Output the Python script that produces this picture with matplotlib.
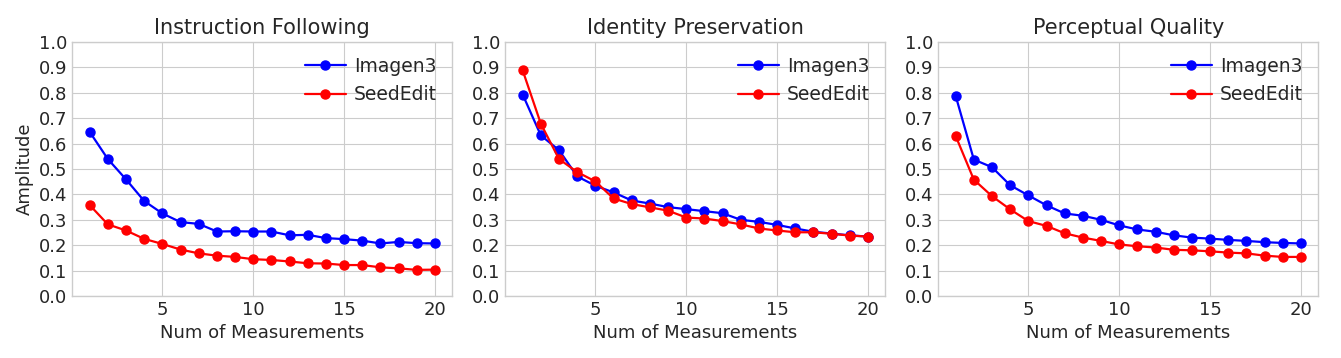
import numpy as np
import matplotlib
matplotlib.use("Agg")
import matplotlib.pyplot as plt

# Valores
x = list(range(1, 21))

instr_imagen3 = [0.646, 0.539, 0.459, 0.374, 0.325, 0.291, 0.284, 0.254, 0.255, 0.254,
                 0.254, 0.239, 0.241, 0.228, 0.224, 0.218, 0.207, 0.213, 0.208, 0.207]
instr_seededit = [0.358, 0.282, 0.258, 0.225, 0.205, 0.183, 0.168, 0.159, 0.154, 0.145,
                  0.142, 0.136, 0.129, 0.128, 0.122, 0.122, 0.113, 0.109, 0.103, 0.104]

ident_imagen3 = [0.793, 0.632, 0.574, 0.471, 0.434, 0.408, 0.376, 0.364, 0.350, 0.342,
                 0.334, 0.326, 0.300, 0.292, 0.280, 0.266, 0.253, 0.246, 0.239, 0.234]
ident_seededit = [0.888, 0.678, 0.539, 0.488, 0.451, 0.384, 0.362, 0.349, 0.336, 0.309,
                  0.305, 0.295, 0.282, 0.266, 0.258, 0.251, 0.251, 0.245, 0.238, 0.234]

percep_imagen3 = [0.788, 0.537, 0.507, 0.436, 0.396, 0.357, 0.325, 0.316, 0.300, 0.278,
                  0.262, 0.253, 0.239, 0.230, 0.226, 0.221, 0.217, 0.212, 0.209, 0.207]
percep_seededit = [0.630, 0.458, 0.393, 0.341, 0.295, 0.276, 0.247, 0.230, 0.217, 0.203,
                   0.196, 0.191, 0.182, 0.180, 0.176, 0.171, 0.168, 0.159, 0.154, 0.154]

titles = ["Instruction Following", "Identity Preservation", "Perceptual Quality"]
series = [(instr_imagen3, instr_seededit),
          (ident_imagen3, ident_seededit),
          (percep_imagen3, percep_seededit)]

plt.style.use("seaborn-v0_8-whitegrid")
plt.rcParams['font.family'] = ['DejaVu Sans']

fig, axes = plt.subplots(1, 3, figsize=(13.41, 3.58), dpi=100)

for i, ax in enumerate(axes):
    a, b = series[i]
    ax.plot(x, a, color="blue", marker="o", markersize=6.5, linewidth=1.6, label="Imagen3")
    ax.plot(x, b, color="red", marker="o", markersize=6.5, linewidth=1.6, label="SeedEdit")
    ax.set_title(titles[i], fontsize=15)
    ax.set_xlabel("Num of Measurements", fontsize=13)
    ax.set_ylim(0, 1.0)
    ax.set_yticks(np.arange(0, 1.01, 0.1))
    ax.set_xticks([5, 10, 15, 20])
    ax.tick_params(labelsize=13)
    ax.legend(loc="upper right", fontsize=13.5, frameon=False,
              handlelength=2.2, handletextpad=0.45, borderaxespad=0.4)
    for s in ax.spines.values():
        s.set_visible(True)
        s.set_color("#cccccc")
        s.set_linewidth(1.0)
    if i == 0:
        ax.set_ylabel("Amplitude", fontsize=13)

plt.subplots_adjust(left=0.054, right=0.983, top=0.883, bottom=0.173, wspace=0.14)
plt.savefig("out.png")
